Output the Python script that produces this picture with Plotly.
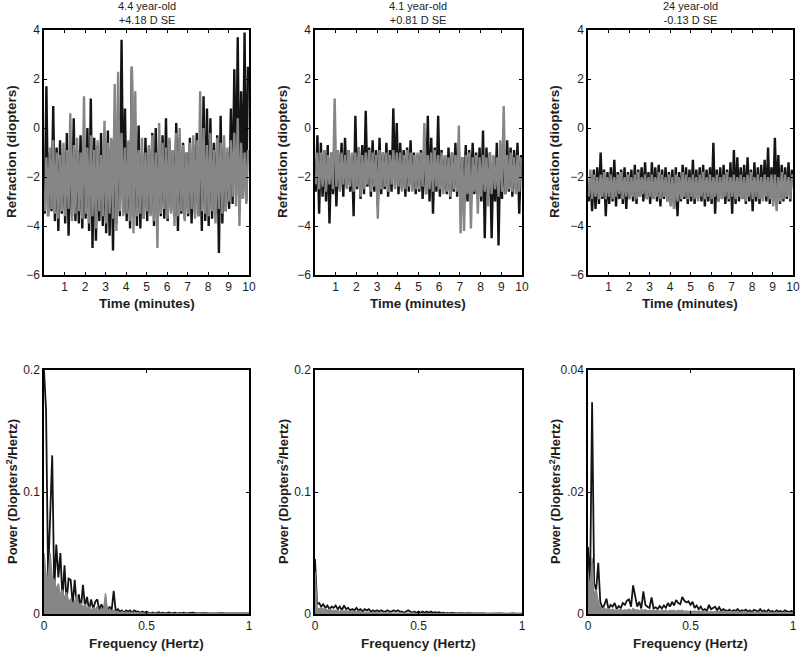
import plotly.graph_objects as go

# ---------------- DATA ----------------
panel_titles = ["4.4 year-old<br>+4.18 D SE", "4.1 year-old<br>+0.81 D SE", "24 year-old<br>-0.13 D SE"]
time_ticks = [1, 2, 3, 4, 5, 6, 7, 8, 9, 10]
refr_ticks = [-6, -4, -2, 0, 2, 4]
freq_ticks = [0, 0.5, 1]
freq_ticklabels = ["0", "0.5", "1"]
power_ticks_child = [0, 0.1, 0.2]
power_ticklabels_child = ["0", "0.1", "0.2"]
power_ticks_adult = [0, 0.02, 0.04]
power_ticklabels_adult = ["0", ".02", "0.04"]

# refraction envelopes per 10-second bin (60 bins = 10 minutes): high and low values
p1_black_hi = [1.7, -1.0, 0.9, -0.8, -0.5, -1.0, -0.2, -0.6, 0.4, -0.9, -0.3, -0.5,
               0.0, 1.2, -0.4, -0.7, -0.2, -0.9, -0.1, -0.5, 0.3, 0.7, 3.6, 0.8,
               -0.6, 2.5, -0.3, 0.1, -1.0, -0.4, -0.8, -0.2, 0.0, -0.6, -0.3, 0.4,
               -0.5, -0.9, 0.2, -0.4, -0.6, -1.0, -0.4, -0.7, -0.2, -0.9, 1.3, 0.8,
               0.4, -0.6, -0.3, 0.5, -0.8, -1.0, 0.8, 2.4, 3.7, 1.5, 3.9, 2.5]
p1_black_lo = [-3.5, -3.6, -3.4, -3.8, -4.2, -3.5, -3.9, -4.4, -3.6, -3.8, -3.9, -4.1,
               -3.7, -4.2, -4.9, -4.6, -3.8, -4.0, -4.3, -4.4, -5.0, -3.9, -3.6, -3.5,
               -3.8, -4.1, -3.6, -4.0, -4.1, -3.7, -3.8, -3.5, -4.0, -3.9, -3.6, -3.7,
               -3.8, -3.4, -3.6, -4.2, -3.5, -3.7, -3.6, -3.9, -3.5, -3.6, -4.2, -3.8,
               -4.0, -3.7, -3.5, -5.1, -3.9, -3.4, -3.3, -3.1, -2.8, -3.4, -2.9, -3.0]
p1_gray_hi = [-1.2, -0.8, -0.5, -1.0, -1.1, -0.6, -0.9, 0.6, -0.7, -0.4, -1.0, 1.3,
              -0.8, -0.3, -0.9, -0.5, -1.1, 0.3, -0.6, -0.4, 1.8, 2.3, -0.2, -0.8,
              -0.5, 2.5, 1.5, -0.9, -0.4, -1.0, -0.7, -0.3, -1.0, 0.2, -0.6, -0.8,
              -0.4, -0.9, -0.2, 0.0, -0.7, -1.0, -0.6, -0.3, -0.5, 1.5, 0.0, -0.7,
              -0.2, -0.9, -0.4, -0.6, -0.3, -0.8, -0.5, -0.2, 0.4, -0.6, -1.0, -0.9]
p1_gray_lo = [-3.4, -3.6, -3.3, -3.5, -3.7, -3.4, -3.6, -3.3, -3.8, -3.5, -3.4, -3.7,
              -3.5, -3.9, -3.6, -4.1, -3.4, -3.6, -3.9, -3.5, -3.7, -4.2, -3.4, -3.6,
              -3.5, -3.8, -4.3, -3.6, -3.5, -3.7, -3.4, -3.6, -3.8, -4.9, -3.5, -3.3,
              -3.7, -3.5, -4.0, -3.6, -3.4, -3.8, -3.5, -3.3, -3.7, -3.6, -3.4, -3.5,
              -3.6, -3.4, -3.9, -3.3, -3.5, -3.4, -3.0, -2.8, -3.2, -4.0, -2.9, -3.1]

p2_black_hi = [-0.3, -0.6, -0.9, -0.7, -1.0, -0.8, -1.0, -0.6, -0.4, -0.9, -1.1, 0.5,
               -0.8, -0.7, 0.7, -0.8, -0.5, -0.9, -0.4, -1.0, -0.6, -0.9, 0.8, 0.2,
               -0.6, -0.9, -0.8, -0.5, -1.0, -1.1, -0.9, -0.7, 0.5, -0.4, -0.8, 0.5,
               -0.9, -1.1, -0.8, -1.0, -0.6, -0.9, -1.2, -0.7, -0.9, -0.6, -1.0, -0.8,
               -0.1, -0.8, -1.0, -1.2, -0.6, -0.9, -0.7, -0.5, -0.8, -0.9, -0.6, -1.1]
p2_black_lo = [-2.6, -3.5, -2.8, -3.0, -3.9, -2.7, -3.2, -2.5, -2.8, -2.4, -2.6, -3.6,
               -2.5, -2.9, -2.7, -2.4, -2.8, -2.6, -3.2, -2.7, -2.5, -2.8, -2.6, -2.4,
               -2.7, -2.5, -2.8, -2.6, -2.5, -2.7, -2.6, -2.9, -2.7, -3.0, -3.5, -2.6,
               -2.8, -2.5, -2.7, -2.9, -2.6, -2.8, -2.9, -2.7, -3.0, -2.8, -2.7, -2.9,
               -3.0, -4.5, -2.8, -4.5, -3.0, -4.8, -2.9, -2.7, -2.6, -2.8, -2.5, -3.5]
p2_gray_hi = [-1.0, -1.0, -0.9, -1.1, -1.0, 1.2, -0.9, -1.0, -1.1, -0.9, -1.0, -1.0,
              -0.8, -1.1, -1.0, -0.9, -1.0, -1.1, -0.9, -1.0, -1.0, -1.1, -0.9, -1.0,
              -1.0, -1.1, -0.9, -1.0, -1.1, -1.0, -1.0, 0.2, -1.1, -1.0, -0.9, -1.1,
              -1.0, -1.1, -1.2, -1.0, -1.1, 0.1, -1.2, -1.1, -1.0, -1.2, -1.1, -1.2,
              -1.1, -1.2, -1.0, -1.1, -1.2, -0.5, 0.9, -1.1, -1.0, -1.2, -1.1, -1.2]
p2_gray_lo = [-2.3, -2.5, -2.4, -2.6, -2.3, -2.5, -2.4, -2.6, -2.3, -2.5, -2.4, -2.6,
              -2.4, -2.8, -2.5, -2.3, -2.6, -2.4, -3.7, -2.5, -2.4, -2.6, -2.3, -2.5,
              -2.4, -2.6, -2.5, -2.4, -2.6, -2.5, -2.5, -2.4, -2.7, -2.5, -2.6, -2.4,
              -2.5, -2.7, -2.6, -2.8, -2.5, -2.6, -4.3, -4.2, -2.7, -4.1, -2.6, -3.5,
              -2.8, -2.6, -3.2, -2.7, -2.5, -2.8, -2.6, -2.7, -2.5, -2.6, -2.7, -2.6]

p3_black_hi = [-1.9, -1.7, -1.6, -1.0, -1.7, -1.8, -1.6, -1.3, -1.8, -1.7, -1.6, -1.8,
               -1.7, -1.5, -1.7, -1.6, -1.4, -1.8, -1.4, -1.6, -1.5, -1.7, -1.6, -1.8,
               -1.7, -1.6, -1.8, -1.5, -1.6, -1.7, -1.3, -1.7, -1.6, -1.5, -1.7, -1.6,
               -0.6, -1.7, -1.6, -1.5, -1.7, -1.4, -0.9, -1.2, -1.6, -1.5, -1.2, -1.7,
               -1.4, -1.6, -1.5, -1.3, -0.8, -1.6, -0.4, -1.1, -1.5, -1.6, -1.4, -1.7]
p3_black_lo = [-3.0, -3.4, -3.3, -3.1, -2.9, -3.6, -3.1, -3.0, -3.2, -2.9, -3.1, -3.3,
               -2.9, -3.0, -3.1, -2.8, -3.0, -2.9, -3.1, -2.9, -3.0, -3.2, -2.9, -3.0,
               -3.1, -3.3, -3.6, -3.0, -2.9, -3.1, -3.0, -3.1, -2.9, -3.0, -3.2, -3.0,
               -3.1, -3.5, -3.0, -2.9, -3.1, -3.0, -3.5, -3.1, -3.0, -2.9, -3.1, -3.0,
               -3.4, -3.0, -3.1, -2.9, -3.0, -3.1, -3.0, -2.9, -3.1, -3.0, -2.9, -3.0]
p3_gray_hi = [-1.7, -1.9, -2.0, -1.9, -1.8, -2.0, -1.9, -2.0, -1.9, -1.8, -2.0, -1.9,
              -2.0, -1.9, -1.8, -2.0, -1.9, -2.0, -1.9, -2.0, -1.8, -1.9, -2.0, -1.9,
              -2.0, -1.9, -2.0, -1.8, -1.9, -2.0, -1.9, -2.0, -1.9, -1.8, -2.0, -1.9,
              -2.0, -1.9, -2.0, -1.9, -1.8, -2.0, -1.9, -2.0, -1.9, -2.0, -1.9, -1.8,
              -2.0, -1.9, -2.0, -1.9, -2.0, -1.9, -1.9, -2.0, -1.8, -1.9, -2.0, -1.9]
p3_gray_lo = [-2.8, -2.9, -2.8, -2.9, -2.8, -2.9, -2.8, -2.9, -2.8, -2.7, -2.9, -2.8,
              -2.9, -2.8, -2.9, -2.8, -2.7, -2.9, -2.8, -2.9, -2.8, -2.9, -2.8, -3.0,
              -3.2, -3.3, -3.0, -2.9, -2.8, -2.9, -2.8, -2.9, -3.0, -2.8, -2.9, -2.8,
              -2.9, -2.8, -3.0, -2.9, -2.8, -2.9, -2.8, -2.9, -2.8, -2.9, -3.0, -2.8,
              -2.9, -2.8, -2.9, -3.0, -2.8, -2.9, -3.2, -3.4, -3.0, -2.9, -2.8, -2.9]

# power spectra, frequency 0..1 Hz in 0.01 Hz steps (101 values)
frequency_hz = [round(i * 0.01, 2) for i in range(101)]
p1_black_psd = [0.200, 0.167, 0.030, 0.075, 0.130, 0.020, 0.057, 0.030, 0.050, 0.012,
                0.040, 0.010, 0.029, 0.028, 0.008, 0.028, 0.005, 0.016, 0.004, 0.024,
                0.006, 0.014, 0.003, 0.012, 0.004, 0.010, 0.012, 0.003, 0.008, 0.004,
                0.009, 0.002, 0.006, 0.003, 0.019, 0.002, 0.004, 0.002, 0.003, 0.001,
                0.003, 0.002, 0.003, 0.001, 0.003, 0.002, 0.002, 0.001, 0.002, 0.001,
                0.002, 0.0010, 0.0006, 0.0012, 0.0005, 0.0009, 0.0015, 0.0006, 0.0010, 0.0005,
                0.0008, 0.0012, 0.0005, 0.0007, 0.0010, 0.0004, 0.0009, 0.0006, 0.0011, 0.0005,
                0.0007, 0.0004, 0.0008, 0.0010, 0.0005, 0.0006, 0.0004, 0.0009, 0.0005, 0.0007,
                0.0004, 0.0006, 0.0008, 0.0004, 0.0005, 0.0007, 0.0004, 0.0006, 0.0005, 0.0004,
                0.0007, 0.0005, 0.0004, 0.0006, 0.0004, 0.0005, 0.0003, 0.0006, 0.0004, 0.0005,
                0.0004]
p1_gray_psd = [0.050, 0.032, 0.030, 0.050, 0.030, 0.028, 0.020, 0.025, 0.015, 0.020,
               0.012, 0.018, 0.010, 0.012, 0.008, 0.010, 0.016, 0.006, 0.009, 0.005,
               0.008, 0.004, 0.006, 0.003, 0.005, 0.004, 0.006, 0.002, 0.005, 0.002,
               0.017, 0.002, 0.004, 0.002, 0.003, 0.002, 0.002, 0.001, 0.002, 0.001,
               0.0015, 0.0010, 0.0012, 0.0008, 0.0010, 0.0007, 0.0009, 0.0006, 0.0008, 0.0005,
               0.0007, 0.0005, 0.0006, 0.0004, 0.0006, 0.0004, 0.0005, 0.0003, 0.0005, 0.0003,
               0.0004, 0.0003, 0.0004, 0.0003, 0.0004, 0.0002, 0.0004, 0.0003, 0.0003, 0.0002,
               0.0003, 0.0002, 0.0003, 0.0002, 0.0003, 0.0002, 0.0003, 0.0002, 0.0003, 0.0002,
               0.0003, 0.0002, 0.0003, 0.0002, 0.0003, 0.0002, 0.0003, 0.0002, 0.0003, 0.0002,
               0.0003, 0.0002, 0.0003, 0.0002, 0.0003, 0.0002, 0.0003, 0.0002, 0.0003, 0.0002,
               0.0002]
p2_black_psd = [0.045, 0.008, 0.009, 0.006, 0.008, 0.005, 0.007, 0.004, 0.006, 0.005,
                0.007, 0.004, 0.006, 0.003, 0.007, 0.004, 0.005, 0.003, 0.004, 0.003,
                0.005, 0.003, 0.004, 0.002, 0.004, 0.003, 0.004, 0.002, 0.003, 0.002,
                0.003, 0.002, 0.003, 0.002, 0.002, 0.003, 0.002, 0.002, 0.003, 0.002,
                0.003, 0.002, 0.002, 0.001, 0.002, 0.003, 0.002, 0.001, 0.002, 0.001,
                0.002, 0.001, 0.002, 0.001, 0.002, 0.001, 0.002, 0.001, 0.0015, 0.001,
                0.0015, 0.0008, 0.0010, 0.0006, 0.0009, 0.0005, 0.0008, 0.0005, 0.0007, 0.0004,
                0.0007, 0.0004, 0.0006, 0.0004, 0.0006, 0.0003, 0.0005, 0.0004, 0.0005, 0.0003,
                0.0005, 0.0003, 0.0005, 0.0003, 0.0004, 0.0003, 0.0005, 0.0003, 0.0004, 0.0003,
                0.0004, 0.0003, 0.0004, 0.0002, 0.0004, 0.0003, 0.0004, 0.0002, 0.0003, 0.0002,
                0.0003]
p2_gray_psd = [0.035, 0.005, 0.004, 0.005, 0.004, 0.004, 0.003, 0.004, 0.003, 0.003,
               0.003, 0.003, 0.002, 0.003, 0.002, 0.003, 0.002, 0.002, 0.002, 0.002,
               0.002, 0.0015, 0.002, 0.0012, 0.0015, 0.0012, 0.0015, 0.0010, 0.0012, 0.0010,
               0.0012, 0.0009, 0.0010, 0.0008, 0.0010, 0.0008, 0.0009, 0.0007, 0.0008, 0.0007,
               0.0008, 0.0006, 0.0007, 0.0006, 0.0007, 0.0005, 0.0006, 0.0005, 0.0006, 0.0005,
               0.0005, 0.0004, 0.0005, 0.0004, 0.0005, 0.0004, 0.0004, 0.0003, 0.0004, 0.0003,
               0.0004, 0.0003, 0.0004, 0.0003, 0.0003, 0.0003, 0.0003, 0.0002, 0.0003, 0.0002,
               0.0003, 0.0002, 0.0003, 0.0002, 0.0003, 0.0002, 0.0003, 0.0002, 0.0003, 0.0002,
               0.0003, 0.0002, 0.0003, 0.0002, 0.0003, 0.0002, 0.0003, 0.0002, 0.0003, 0.0002,
               0.0003, 0.0002, 0.0003, 0.0002, 0.0003, 0.0002, 0.0003, 0.0002, 0.0003, 0.0002,
               0.0002]
p3_black_psd = [0.0110, 0.0040, 0.0347, 0.0050, 0.0040, 0.0084, 0.0020, 0.0010, 0.0015, 0.0025,
                0.0008, 0.0015, 0.0012, 0.0018, 0.0008, 0.0013, 0.0010, 0.0018, 0.0015, 0.0022,
                0.0024, 0.0012, 0.0047, 0.0028, 0.0012, 0.0020, 0.0009, 0.0037, 0.0015, 0.0012,
                0.0010, 0.0027, 0.0009, 0.0011, 0.0008, 0.0013, 0.0009, 0.0014, 0.0010, 0.0018,
                0.0012, 0.0020, 0.0014, 0.0023, 0.0018, 0.0016, 0.0028, 0.0022, 0.0019, 0.0021,
                0.0015, 0.0020, 0.0010, 0.0014, 0.0008, 0.0012, 0.0006, 0.0008, 0.0005, 0.0015,
                0.0008, 0.0010, 0.0012, 0.0006, 0.0011, 0.0005, 0.0008, 0.0006, 0.0005, 0.0007,
                0.0004, 0.0006, 0.0005, 0.0008, 0.0004, 0.0006, 0.0005, 0.0007, 0.0004, 0.0006,
                0.0003, 0.0007, 0.0005, 0.0004, 0.0008, 0.0004, 0.0006, 0.0003, 0.0007, 0.0004,
                0.0005, 0.0003, 0.0006, 0.0004, 0.0005, 0.0003, 0.0006, 0.0004, 0.0003, 0.0005,
                0.0004]
p3_gray_psd = [0.0068, 0.0040, 0.0092, 0.0030, 0.0040, 0.0020, 0.0012, 0.0008, 0.0010, 0.0007,
               0.0009, 0.0006, 0.0008, 0.0006, 0.0007, 0.0006, 0.0008, 0.0005, 0.0007, 0.0006,
               0.0008, 0.0005, 0.0009, 0.0006, 0.0007, 0.0005, 0.0007, 0.0006, 0.0007, 0.0005,
               0.0006, 0.0005, 0.0006, 0.0005, 0.0006, 0.0004, 0.0006, 0.0005, 0.0006, 0.0004,
               0.0006, 0.0005, 0.0006, 0.0004, 0.0006, 0.0005, 0.0006, 0.0004, 0.0005, 0.0004,
               0.0005, 0.0004, 0.0005, 0.0004, 0.0005, 0.0004, 0.0005, 0.0003, 0.0004, 0.0003,
               0.0004, 0.0003, 0.0004, 0.0003, 0.0004, 0.0003, 0.0004, 0.0003, 0.0004, 0.0003,
               0.0004, 0.0003, 0.0004, 0.0003, 0.0003, 0.0003, 0.0004, 0.0003, 0.0003, 0.0002,
               0.0003, 0.0002, 0.0003, 0.0002, 0.0003, 0.0002, 0.0003, 0.0002, 0.0003, 0.0002,
               0.0003, 0.0002, 0.0003, 0.0002, 0.0003, 0.0002, 0.0003, 0.0002, 0.0003, 0.0002,
               0.0002]

# ---------------- FIGURE ----------------
W, H = 800, 651
BLACK = "#141414"
GRAY = "#868686"
FONT = "Liberation Sans, Arial, sans-serif"
TXT = "#1e1e1e"


def envelope_trace(hi, lo, color, xa, ya, width):
    """Zig-zag between the low and high value of each 10-second bin."""
    n = len(hi)
    xs, ys = [], []
    for i in range(n):
        xs += [(i + 0.2) * 10 / n, (i + 0.7) * 10 / n]
        ys += [lo[i], hi[i]]
    return go.Scatter(x=xs, y=ys, mode="lines", line=dict(color=color, width=width),
                      xaxis=xa, yaxis=ya, showlegend=False, hoverinfo="skip")


def spec_trace(vals, color, xa, ya, width, fill=False):
    return go.Scatter(x=frequency_hz, y=vals, mode="lines", line=dict(color=color, width=width),
                      fill="tozeroy" if fill else None, fillcolor=color if fill else None,
                      xaxis=xa, yaxis=ya, showlegend=False, hoverinfo="skip")


fig = go.Figure()

xdom = [(44 / W, 249 / W), (315 / W, 522 / W), (588 / W, 793 / W)]
top_dom = (1 - 275 / H, 1 - 30 / H)
bot_dom = (1 - 614 / H, 1 - 370 / H)

top_data = [(p1_black_hi, p1_black_lo, p1_gray_hi, p1_gray_lo),
            (p2_black_hi, p2_black_lo, p2_gray_hi, p2_gray_lo),
            (p3_black_hi, p3_black_lo, p3_gray_hi, p3_gray_lo)]
bot_data = [(p1_black_psd, p1_gray_psd), (p2_black_psd, p2_gray_psd), (p3_black_psd, p3_gray_psd)]

axis_common = dict(showline=True, linecolor="black", linewidth=1.5, mirror="ticks",
                   ticks="inside", ticklen=3, tickwidth=1, tickcolor="black",
                   showgrid=False, zeroline=False, ticklabeloverflow="allow",
                   automargin=False,
                   tickfont=dict(family=FONT, size=12, color=TXT))

layout_axes = {}
for k in range(3):
    tx = 2 * k + 1
    bx = 2 * k + 2
    xa = "x" if tx == 1 else f"x{tx}"
    ya = "y" if tx == 1 else f"y{tx}"
    bh, bl, gh, gl = top_data[k]
    fig.add_trace(envelope_trace(bh, bl, BLACK, xa, ya, 2.4))
    fig.add_trace(envelope_trace(gh, gl, GRAY, xa, ya, 2.4))
    layout_axes[f"xaxis{tx}"] = dict(domain=xdom[k], anchor=ya, range=[0, 10],
                                     tickvals=time_ticks, **axis_common)
    layout_axes[f"yaxis{tx}"] = dict(domain=top_dom, anchor=xa, range=[-6, 4],
                                     tickvals=refr_ticks, **axis_common)
    xb = f"x{bx}"
    yb = f"y{bx}"
    blk, gry = bot_data[k]
    fig.add_trace(spec_trace(blk, BLACK, xb, yb, 1.8))
    fig.add_trace(spec_trace(gry, GRAY, xb, yb, 1.4, fill=True))
    if k < 2:
        yt, ytl, yr = power_ticks_child, power_ticklabels_child, [0, 0.2]
    else:
        yt, ytl, yr = power_ticks_adult, power_ticklabels_adult, [0, 0.04]
    layout_axes[f"xaxis{bx}"] = dict(domain=xdom[k], anchor=yb, range=[0, 1],
                                     tickvals=freq_ticks, ticktext=freq_ticklabels, **axis_common)
    layout_axes[f"yaxis{bx}"] = dict(domain=bot_dom, anchor=xb, range=yr,
                                     tickvals=yt, ticktext=ytl, **axis_common)

annotations = []
ytitle_x = [12, 283, 555]
for k in range(3):
    cx = (xdom[k][0] + xdom[k][1]) / 2
    annotations.append(dict(text=panel_titles[k], x=cx, y=1 - 13 / H, xref="paper", yref="paper",
                            showarrow=False, xanchor="center", yanchor="middle",
                            font=dict(family=FONT, size=11, color=TXT)))
    annotations.append(dict(text="<b>Time (minutes)</b>", x=cx, y=1 - 303 / H, xref="paper", yref="paper",
                            showarrow=False, xanchor="center", yanchor="middle",
                            font=dict(family=FONT, size=13.5, color=TXT)))
    annotations.append(dict(text="<b>Frequency (Hertz)</b>", x=cx, y=1 - 643 / H, xref="paper", yref="paper",
                            showarrow=False, xanchor="center", yanchor="middle",
                            font=dict(family=FONT, size=13.5, color=TXT)))
    annotations.append(dict(text="<b>Refraction (diopters)</b>", x=ytitle_x[k] / W, y=1 - 152 / H,
                            xref="paper", yref="paper", showarrow=False, textangle=-90,
                            xanchor="center", yanchor="middle",
                            font=dict(family=FONT, size=13.5, color=TXT)))
    annotations.append(dict(text="<b>Power (Diopters<sup>2</sup>/Hertz)</b>", x=ytitle_x[k] / W, y=1 - 492 / H,
                            xref="paper", yref="paper", showarrow=False, textangle=-90,
                            xanchor="center", yanchor="middle",
                            font=dict(family=FONT, size=13, color=TXT)))

fig.update_layout(width=W, height=H, margin=dict(l=0, r=0, t=0, b=0, autoexpand=False),
                  paper_bgcolor="white", plot_bgcolor="white",
                  annotations=annotations, showlegend=False, **layout_axes)

fig.write_html("out.html", config={"displayModeBar": False},
               post_script="document.body.style.margin='0';document.body.style.padding='0';"
                           "document.body.style.overflow='hidden';")
